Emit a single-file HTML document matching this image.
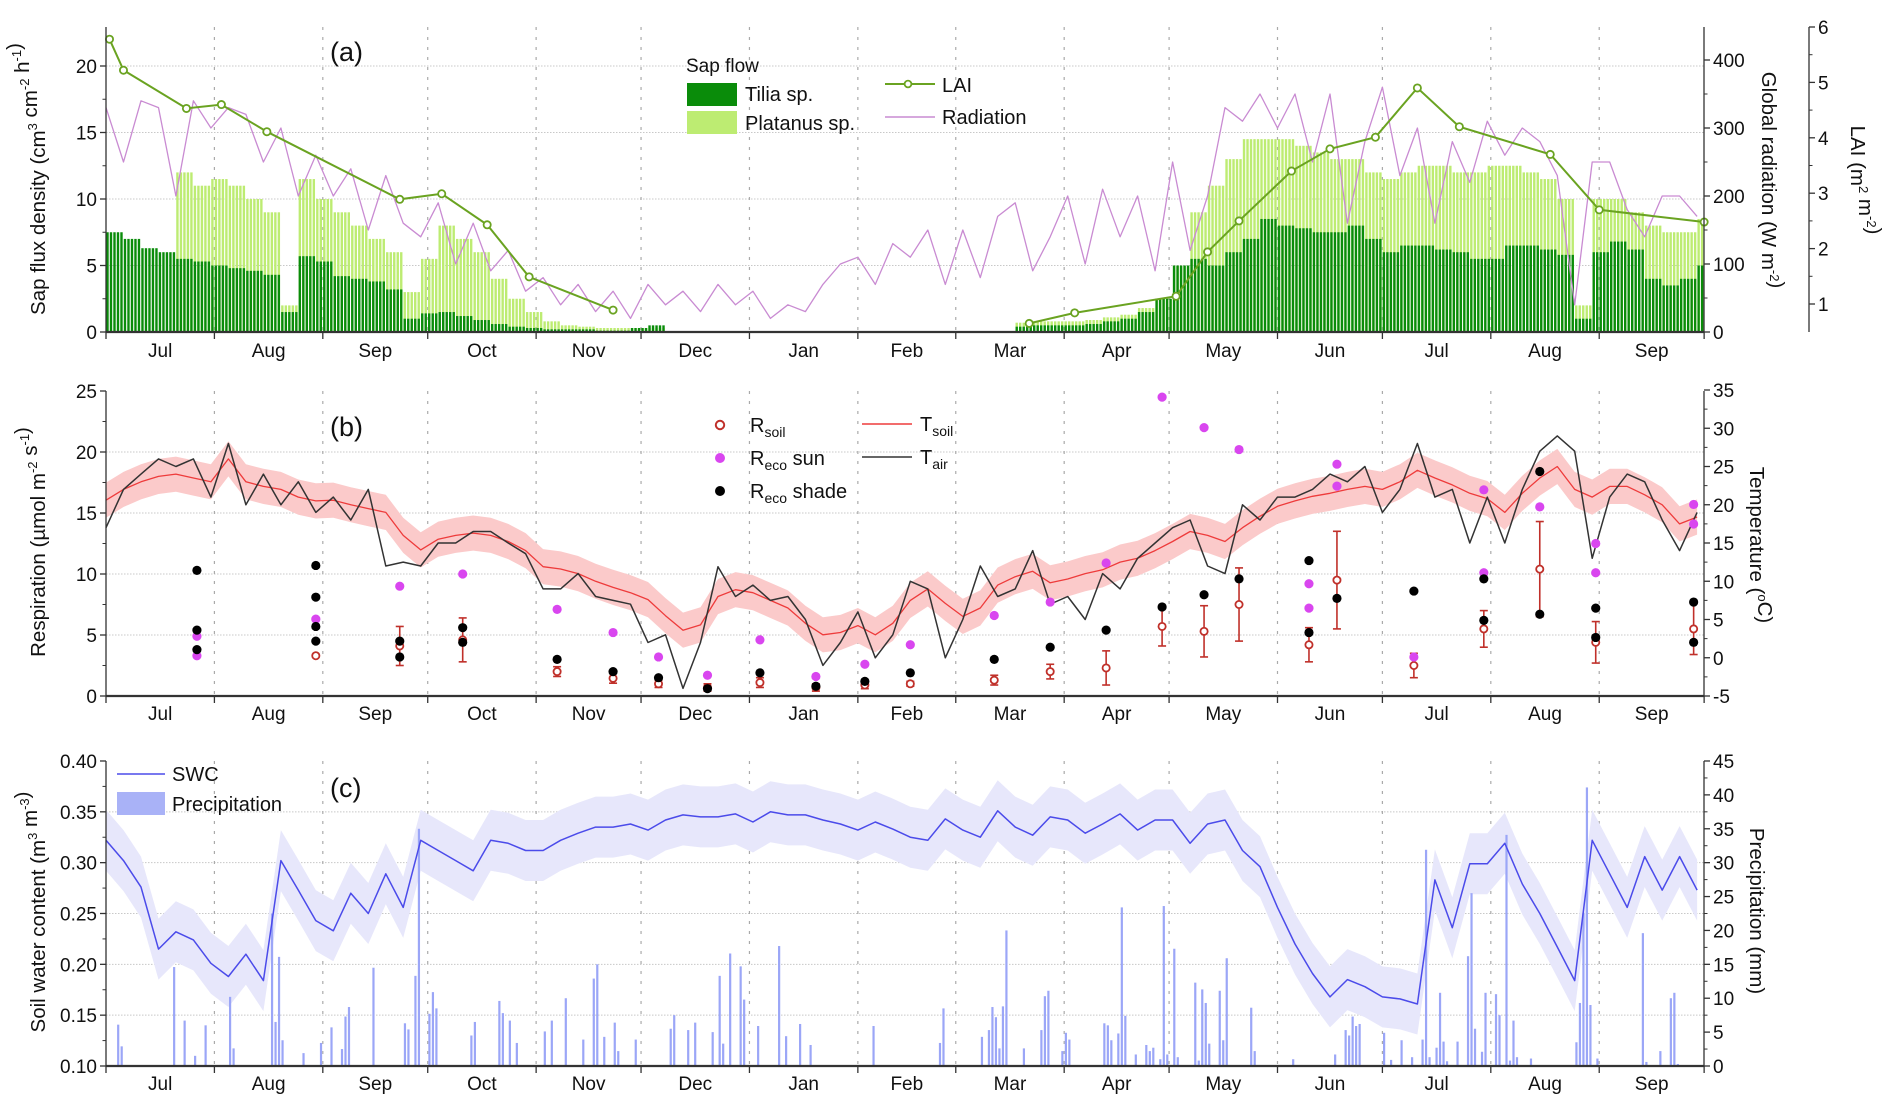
<!DOCTYPE html>
<html><head><meta charset="utf-8"><title>Sap flow, respiration and soil water</title>
<style>
html,body{margin:0;padding:0;background:#fff;}
svg{display:block;font-family:"Liberation Sans",Arial,sans-serif;}
</style></head>
<body>
<svg id="chart" width="1892" height="1112" viewBox="0 0 1892 1112" xmlns="http://www.w3.org/2000/svg">
<rect width="1892" height="1112" fill="#fff"/>
<g id="pa"></g>
<g id="pb"></g>
<g id="pc"></g>
</svg>
<script>
// ---------- shared time axis ----------
const monthStarts=[0,31,62,92,123,153,184,215,243,274,304,335,365,396,427,457];
const monthLabels=["Jul","Aug","Sep","Oct","Nov","Dec","Jan","Feb","Mar","Apr","May","Jun","Jul","Aug","Sep"];
const step=5; // days per data value
// ---------- panel a data ----------
const tilia=[7.5,7,6.3,6,5.5,5.3,5,4.8,4.6,4.3,
1.5,5.7,5.3,4.2,4,3.8,3.2,1,1.4,1.5,
1.2,0.9,0.6,0.4,0.3,0.2,0.2,0.2,0.1,0.1,
0.3,0.5,0,0,0,0,0,0,0,0,
0,0,0,0,0,0,0,0,0,0,
0,0,0.4,0.5,0.5,0.5,0.6,0.8,1.0,1.5,
2.5,5,5.5,5,6,7,8.5,8,7.8,7.5,
7.5,8,7,6,6.5,6.5,6.2,6,5.5,5.5,
6.5,6.5,6.2,5.8,1,6,6.8,6.2,4,3.5,
4,5];
const platanus=[0,0,0,0,12,11,11.5,11,10,9,
2,11.5,10,9,8,7,6,3,5.5,8,
7,6,4,2.5,1.5,0.8,0.5,0.4,0.3,0.3,
0.3,0.3,0,0,0,0,0,0,0,0,
0,0,0,0,0,0,0,0,0,0,
0,0,0.7,0.8,0.8,0.8,0.9,1.1,1.3,1.8,
2.5,5,9,11,13,14.5,14.5,14.5,14,13.5,
13,13,12,11.5,12,12.5,12.5,12,12,12.5,
12.5,12,11.5,10,2,10,10,9,8,7.5,
7.5,8.5];
const radiation=[330,250,340,330,200,340,300,330,320,250,
300,200,260,200,240,150,230,160,140,190,
100,160,90,120,60,80,40,70,30,60,
20,70,40,60,30,70,40,60,20,40,
30,70,100,110,70,130,110,150,70,150,
80,170,190,90,140,200,100,210,140,200,
90,250,120,200,330,310,350,300,350,250,
350,160,280,360,230,300,160,280,220,310,
260,300,280,230,40,250,250,180,140,200,
200,170];
const laiDays=[1,5,23,33,46,84,96,109,121,145,264,277,306,315,324,339,350,363,375,387,413,427,457];
const laiVals=[5.78,5.22,4.53,4.60,4.11,2.89,2.99,2.43,1.49,0.89,0.65,0.84,1.14,1.94,2.50,3.40,3.80,4.01,4.90,4.20,3.70,2.70,2.48];
const sapTicks=[0,5,10,15,20];
const radTicks=[0,100,200,300,400];
const laiTicks=[1,2,3,4,5,6];
// ---------- panel b data ----------
const tsoil=[20.6,22,23,23.7,24,23.5,23,26,23,22.4,
22,21,20.5,20.6,20,19.5,19,16,14.1,15.5,
16,16.3,16,15.2,14,11.9,11.6,11,10,9.2,
8.5,7.6,5.5,3.6,4.3,8,8.9,8.5,7.5,6.5,
4.5,3,3.3,4.2,3,4.5,7.5,9,
7.1,5.4,6.5,9.5,10.6,11.3,9.8,10.3,11,11.5,
12.5,13,14,15.2,16.5,16,15.2,17,18.5,19.8,
20.5,21.1,21.5,22,22.4,22,23,24.5,23.5,22.6,
21.5,20.8,19,21.5,23.5,25,22,21,22.4,22.4,
21.3,20,17.5,18.4];
const tair=[17,22,24,26,25,26,21,28,20,24,
20,23,19,21,18,22,12,12.5,12,15,
15,16.5,16.5,15,13.6,9,9,11,8,7.5,
7,2,3,-4,2,11.9,8,9.5,7.5,8,
5,-1,2,6,0,3,10,9,
0,5,12,8,9,14,7,8,5,11,
9,13,15,17,18,12,11,20,18,21,
21,22,24,23,25,19,22,28,21,22,
15,21,15,22,27,29,27,13,21,24,
23,18,14,19];
const rsoilDays=[60,84,102,129,145,158,172,187,203,217,230,254,270,286,302,314,324,344,352,374,394,410,426,454];
const rsoilVals=[3.3,4.1,4.6,2.0,1.45,1.0,0.7,1.1,0.7,0.9,1.0,1.3,2.0,2.3,5.7,5.3,7.5,4.2,9.5,2.5,5.5,10.4,4.4,5.5];
const rsoilErr=[0,1.6,1.8,0.4,0.4,0.3,0.3,0.4,0.3,0.3,0.2,0.4,0.6,1.4,1.6,2.1,3.0,1.4,4.0,1.0,1.5,3.9,1.7,2.1];
const sunDays=[26,26,60,84,102,129,145,158,172,187,203,217,230,254,270,286,302,314,324,344,344,352,352,374,394,394,410,426,426,454,454];
const sunVals=[4.9,3.3,6.3,9.0,10.0,7.1,5.2,3.2,1.7,4.6,1.6,2.6,4.2,6.6,7.7,10.9,24.5,22.0,20.2,9.2,7.2,19.0,17.2,3.2,10.1,16.9,15.5,12.5,10.1,15.7,14.1];
const shadeDays=[26,26,26,60,60,60,60,84,84,102,102,129,145,158,172,187,203,217,230,254,270,286,302,314,324,344,344,352,374,394,394,410,410,426,426,454,454];
const shadeVals=[10.3,5.4,3.8,10.7,8.1,5.7,4.5,4.5,3.2,5.6,4.4,3.0,2.0,1.5,0.6,1.9,0.8,1.2,1.9,3.0,4.0,5.4,7.3,8.3,9.6,11.1,5.2,8.0,8.6,9.6,6.2,18.4,6.7,7.2,4.8,7.7,4.4];
const respTicks=[0,5,10,15,20,25];
const tempTicks=[-5,0,5,10,15,20,25,30,35];
// ---------- panel c data ----------
const swc=[.322,.302,.276,.215,.232,.224,.201,.188,.210,.184,
.302,.273,.243,.233,.270,.250,.289,.256,.322,.312,
.302,.292,.322,.319,.312,.312,.322,.329,.335,.335,
.338,.332,.342,.347,.345,.345,.348,.340,.350,.347,
.347,.342,.338,.332,.340,.333,.325,.322,.343,.332,
.325,.351,.335,.327,.345,.342,.329,.338,.348,.332,
.342,.342,.319,.338,.342,.312,.296,.256,.220,.191,
.168,.185,.178,.168,.166,.161,.283,.236,.299,.299,
.319,.279,.250,.217,.184,.322,.289,.256,.306,.273,
.306,.273];
const precipDays=[3,4,19,22,25,28,35,36,47,48,49,50,56,61,64,67,68,69,76,85,86,88,89,92,93,94,104,105,112,113,115,117,125,127,131,136,139,140,142,145,146,151,161,162,166,168,173,175,176,178,181,182,186,192,194,198,201,219,238,239,
250,252,253,254,255,256,257,262,267,268,269,273,274,275,285,286,287,289,290,291,294,297,298,299,301,302,303,305,306,311,312,313,314,315,318,319,320,327,328,339,351,354,355,356,357,358,365,367,370,373,376,377,378,380,381,382,383,386,389,390,391,393,394,397,398,400,401,402,403,407,420,421,422,423,424,426,439,440,444,447,448,449];
const precipMm=[6.1,2.9,14.6,6.7,1.5,6.0,10.2,2.6,22.5,6.5,16.1,3.8,1.9,3.4,5.7,2.5,7.3,8.7,14.5,6.3,5.4,13.3,35,7.7,10.9,8.5,4.5,6.5,9.6,7.8,6.7,3.4,5.1,6.7,10.0,3.9,12.9,15.0,4.3,6.4,2.2,3.9,5.5,7.5,5.3,6.4,5.0,13.3,3.3,16.6,14.7,9.8,5.9,17.7,4.4,6.2,3.1,5.9,3.4,8.5,
4.3,5.3,8.7,7.2,2.6,8.8,20.0,2.6,5.3,10.3,11.1,2.2,4.9,3.9,6.3,6.0,3.8,4.8,23.4,7.4,1.7,3.1,2.2,2.7,1.0,23.6,1.7,17.3,1.3,12.3,0.8,11.3,9.3,3.3,11.1,3.8,15.9,8.6,2.2,1.0,1.7,5.3,4.5,7.3,5.9,6.2,4.9,0.9,3.8,1.3,3.9,31.9,1.3,2.7,10.8,3.6,0.7,3.6,16.2,25.5,5.5,2.1,10.8,10.6,7.5,34.1,0.8,6.7,1.3,1.1,3.5,9.3,22.6,41.1,9.0,1.1,19.6,0.6,2.2,10.0,10.8,0.3];
const swcTicks=[0.10,0.15,0.20,0.25,0.30,0.35,0.40];
const precipTicks=[0,5,10,15,20,25,30,35,40,45];

// ---------- geometry ----------
const X0=106, PX=3.497, XR=1704;
const X=d=>X0+d*PX;
const NS="http://www.w3.org/2000/svg";
function mk(parent,tag,attrs,text){
  const e=document.createElementNS(NS,tag);
  for(const k in attrs) e.setAttribute(k,attrs[k]);
  if(text!==undefined) e.textContent=text;
  parent.appendChild(e);
  return e;
}
const A={top:27,bot:332,y:v=>332-v*13.3,yr:w=>332-w*0.68,yl:l=>359.4-l*55.4};
const B={top:391,bot:696,y:v=>696-v*12.2,yt:t=>696-(t+5)*7.65};
const C={top:761,bot:1066,y:v=>1066-(v-0.1)*1016.7,yp:m=>1066-m*6.778};

function grid(g,ticks,yf,top,bot){
  ticks.forEach(t=>{const y=yf(t); if(y>top+2&&y<bot-2){
    const l=mk(g,'line',{x1:X0,x2:XR,y1:y,y2:y,stroke:'#c8c8c8','stroke-width':1,'stroke-dasharray':'1.5,1.5'});
    
    }});
  monthStarts.slice(1,-1).forEach(d=>{
    const l=mk(g,'line',{x1:X(d),x2:X(d),y1:top,y2:bot,stroke:'#aaa','stroke-width':1.2,'stroke-dasharray':'3,7'});
    
    });
}
function xaxis(g,bot,labelY){
  const ax=mk(g,'line',{x1:X0,x2:XR,y1:bot,y2:bot,stroke:'#333','stroke-width':2.2});
  
  
  monthStarts.forEach(d=>mk(g,'line',{x1:X(d),x2:X(d),y1:bot,y2:bot+7,stroke:'#333','stroke-width':1.3}));
  monthLabels.forEach((m,i)=>{
    const t=mk(g,'text',{x:(X(monthStarts[i])+X(monthStarts[i+1]))/2,y:labelY,'font-size':19,'text-anchor':'middle',fill:'#111'},m);
    
    });
}
function yaxis(g,x,top,bot,ticks,yf,fmt,side,minor){
  const ax=mk(g,'line',{x1:x,x2:x,y1:top,y2:bot,stroke:'#333','stroke-width':1.3});
  
  
  ticks.forEach((t,i)=>{
    const y=yf(t);
    mk(g,'line',{x1:x,x2:x+side*6,y1:y,y2:y,stroke:'#333','stroke-width':1.3});
    if(minor&&i<ticks.length-1){const ym=(y+yf(ticks[i+1]))/2; mk(g,'line',{x1:x,x2:x+side*3.5,y1:ym,y2:ym,stroke:'#333','stroke-width':1});}
    const lb=mk(g,'text',{x:x+side*9,y:y+7,'font-size':19,'text-anchor':side<0?'end':'start',fill:'#111'},fmt(t));
    
    
  });
}
function vtitle(g,x,y,rot,parts,name){
  const t=mk(g,'text',{transform:`translate(${x},${y}) rotate(${rot})`,'font-size':20.5,'text-anchor':'middle',fill:'#111'});
  
  
  parts.forEach(p=>{
    if(typeof p==='string'){mk(t,'tspan',{},p);}
    else{mk(t,'tspan',{'font-size':13,dy:-8},p.sup); mk(t,'tspan',{dy:8},'');}
  });
}
function linePath(g,vals,yf,color,w,name){
  let d='';
  vals.forEach((v,i)=>{const day=Math.min(i*step,457); d+=(i?'L':'M')+X(day).toFixed(1)+','+yf(v).toFixed(1);});
  const p=mk(g,'path',{d:d,fill:'none',stroke:color,'stroke-width':w,'stroke-linejoin':'round'});
  
  
  return p;
}
function band(g,vals,yf,sd,color,name){
  let up='',dn='';
  vals.forEach((v,i)=>{const day=Math.min(i*step,457); up+=(i?'L':'M')+X(day).toFixed(1)+','+yf(v+sd).toFixed(1);});
  for(let i=vals.length-1;i>=0;i--){const day=Math.min(i*step,457); dn+='L'+X(day).toFixed(1)+','+yf(vals[i]-sd).toFixed(1);}
  const p=mk(g,'path',{d:up+dn+'Z',fill:color,stroke:'none'});
  
  
}
function dailyBars(g,vals,yf,base,color,name){
  vals.forEach((v,i)=>{
    if(v<=0) return;
    for(let k=0;k<step;k++){
      const day=i*step+k; if(day>=457) break;
      const y=yf(v);
      const r=mk(g,'rect',{x:X(day)+0.3,y:y,width:PX-1.1,height:base-y,fill:color});
      
      
    }
  });
}

// ================= PANEL A =================
const ga=document.getElementById('pa');
grid(ga,sapTicks,A.y,A.top,A.bot);
dailyBars(ga,platanus,A.y,A.bot,'#bdec72','bar-platanus');
dailyBars(ga,tilia,A.y,A.bot,'#0a8c0a','bar-tilia');
linePath(ga,radiation,A.yr,'#c98bd2',1.3,'radiation-line');
{
  let d='';
  laiDays.forEach((day,i)=>{
    const brk=(i===0)||(day-laiDays[i-1]>60);
    d+=(brk?'M':'L')+X(day).toFixed(1)+','+A.yl(laiVals[i]).toFixed(1);
  });
  const p=mk(ga,'path',{d:d,fill:'none',stroke:'#6aa321','stroke-width':2});
  
  
  laiDays.forEach((day,i)=>{
    const c=mk(ga,'circle',{cx:X(day),cy:A.yl(laiVals[i]),r:3.6,fill:'#fff',stroke:'#6aa321','stroke-width':1.8});
    
    
  });
}
xaxis(ga,A.bot,357);
yaxis(ga,X0,A.top,A.bot,sapTicks,A.y,v=>String(v),-1,true);
yaxis(ga,XR,A.top,A.bot,radTicks,A.yr,v=>String(v),1,true);
yaxis(ga,1809,A.top,A.bot,laiTicks,A.yl,v=>String(v),1,true);
vtitle(ga,45,179,-90,['Sap flux density (cm',{sup:'3'},' cm',{sup:'-2'},' h',{sup:'-1'},')'],'y-axis-title-sap');
vtitle(ga,1762,180,90,['Global radiation (W m',{sup:'-2'},')'],'y-axis-title-radiation');
vtitle(ga,1851,180,90,['LAI (m',{sup:'2'},' m',{sup:'-2'},')'],'y-axis-title-lai');
{
  const t=mk(ga,'text',{x:330,y:61,'font-size':27,fill:'#111'},'(a)');
  
  
  const lg=mk(ga,'g',{});
  
  
  mk(lg,'text',{x:686,y:72,'font-size':19,fill:'#111'},'Sap flow');
  const s1=mk(lg,'rect',{x:687,y:83,width:50,height:23,fill:'#0a8c0a'});
  
  
  mk(lg,'text',{x:745,y:101,'font-size':20,fill:'#111'},'Tilia sp.');
  const s2=mk(lg,'rect',{x:687,y:111,width:50,height:23,fill:'#bdec72'});
  
  
  mk(lg,'text',{x:745,y:130,'font-size':20,fill:'#111'},'Platanus sp.');
  mk(lg,'line',{x1:885,x2:935,y1:84,y2:84,stroke:'#6aa321','stroke-width':2});
  mk(lg,'circle',{cx:908,cy:84,r:3.4,fill:'#fff',stroke:'#6aa321','stroke-width':1.8});
  mk(lg,'text',{x:942,y:92,'font-size':20,fill:'#111'},'LAI');
  mk(lg,'line',{x1:885,x2:935,y1:117,y2:117,stroke:'#c98bd2','stroke-width':1.5});
  mk(lg,'text',{x:942,y:124,'font-size':20,fill:'#111'},'Radiation');
}

// ================= PANEL B =================
const gb=document.getElementById('pb');
grid(gb,respTicks,B.y,B.top,B.bot);
band(gb,tsoil,B.yt,2.3,'#fbcaca','tsoil-band');
linePath(gb,tsoil,B.yt,'#ee3b3b',1.3,'tsoil-line');
linePath(gb,tair,B.yt,'#333',1.5,'tair-line');
rsoilDays.forEach((day,i)=>{
  const x=X(day),v=rsoilVals[i],e=rsoilErr[i];
  if(e>0){
    mk(gb,'line',{x1:x,x2:x,y1:B.y(v+e),y2:B.y(v-e),stroke:'#c0302a','stroke-width':1.6});
    mk(gb,'line',{x1:x-4,x2:x+4,y1:B.y(v+e),y2:B.y(v+e),stroke:'#c0302a','stroke-width':1.6});
    mk(gb,'line',{x1:x-4,x2:x+4,y1:B.y(v-e),y2:B.y(v-e),stroke:'#c0302a','stroke-width':1.6});
  }
  const c=mk(gb,'circle',{cx:x,cy:B.y(v),r:3.6,fill:'#fff',stroke:'#c0302a','stroke-width':1.8});
  
  
});
sunDays.forEach((day,i)=>{
  const c=mk(gb,'circle',{cx:X(day),cy:B.y(sunVals[i]),r:4.6,fill:'#d946ef'});
  
  
});
shadeDays.forEach((day,i)=>{
  const c=mk(gb,'circle',{cx:X(day),cy:B.y(shadeVals[i]),r:4.6,fill:'#000'});
  
  
});
xaxis(gb,B.bot,720);
yaxis(gb,X0,B.top,B.bot,respTicks,B.y,v=>String(v),-1,true);
yaxis(gb,XR,B.top,B.bot,tempTicks,B.yt,v=>String(v),1,true);
vtitle(gb,45,542,-90,['Respiration (µmol m',{sup:'-2'},' s',{sup:'-1'},')'],'y-axis-title-respiration');
vtitle(gb,1750,545,90,['Temperature (',{sup:'o'},'C)'],'y-axis-title-temperature');
{
  const t=mk(gb,'text',{x:330,y:436,'font-size':27,fill:'#111'},'(b)');
  
  
  const lg=mk(gb,'g',{});
  
  
  mk(lg,'circle',{cx:720,cy:425,r:4.2,fill:'#fff',stroke:'#c0302a','stroke-width':2});
  const r1=mk(lg,'text',{x:750,y:432,'font-size':20,fill:'#111'},'R');
  mk(r1,'tspan',{'font-size':14,dy:5},'soil');
  mk(lg,'circle',{cx:720,cy:458,r:5,fill:'#d946ef'});
  const r2=mk(lg,'text',{x:750,y:465,'font-size':20,fill:'#111'},'R');
  mk(r2,'tspan',{'font-size':14,dy:5},'eco');
  mk(r2,'tspan',{dy:-5},' sun');
  mk(lg,'circle',{cx:720,cy:491,r:5,fill:'#000'});
  const r3=mk(lg,'text',{x:750,y:498,'font-size':20,fill:'#111'},'R');
  mk(r3,'tspan',{'font-size':14,dy:5},'eco');
  mk(r3,'tspan',{dy:-5},' shade');
  mk(lg,'line',{x1:862,x2:912,y1:424,y2:424,stroke:'#ee3b3b','stroke-width':1.6});
  const t1=mk(lg,'text',{x:920,y:431,'font-size':20,fill:'#111'},'T');
  mk(t1,'tspan',{'font-size':14,dy:5},'soil');
  mk(lg,'line',{x1:862,x2:912,y1:457,y2:457,stroke:'#333','stroke-width':1.6});
  const t2=mk(lg,'text',{x:920,y:464,'font-size':20,fill:'#111'},'T');
  mk(t2,'tspan',{'font-size':14,dy:5},'air');
}

// ================= PANEL C =================
const gc=document.getElementById('pc');
grid(gc,swcTicks,C.y,C.top,C.bot);
band(gc,swc,C.y,0.03,'#e7e7fb','swc-band');
precipDays.forEach((day,i)=>{
  const y=C.yp(precipMm[i]);
  const r=mk(gc,'rect',{x:X(day)+0.6,y:y,width:2.2,height:C.bot-y,fill:'#9ba6f7'});
  
  
});
linePath(gc,swc,C.y,'#4b4bea',1.5,'swc-line');
xaxis(gc,C.bot,1090);
yaxis(gc,X0,C.top,C.bot,swcTicks,C.y,v=>v.toFixed(2),-1,true);
yaxis(gc,XR,C.top,C.bot,precipTicks,C.yp,v=>String(v),1,true);
vtitle(gc,45,912,-90,['Soil water content (m',{sup:'3'},' m',{sup:'-3'},')'],'y-axis-title-swc');
vtitle(gc,1750,911,90,['Precipitation (mm)'],'y-axis-title-precipitation');
{
  const t=mk(gc,'text',{x:330,y:797,'font-size':27,fill:'#111'},'(c)');
  
  
  const lg=mk(gc,'g',{});
  
  
  mk(lg,'line',{x1:117,x2:165,y1:774,y2:774,stroke:'#4b4bea','stroke-width':1.6});
  mk(lg,'text',{x:172,y:781,'font-size':20,fill:'#111'},'SWC');
  mk(lg,'rect',{x:117,y:792,width:48,height:23,fill:'#a9b2f7'});
  mk(lg,'text',{x:172,y:811,'font-size':20,fill:'#111'},'Precipitation');
}
</script>
</body></html>
